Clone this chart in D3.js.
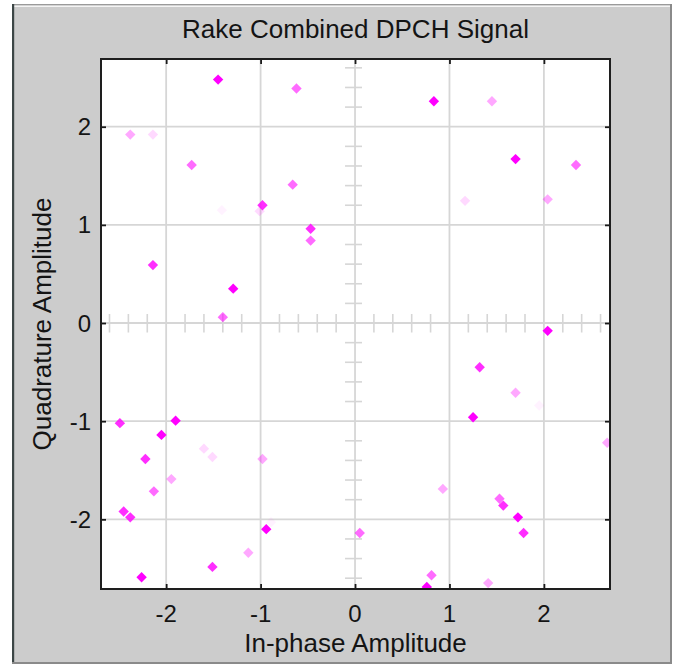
<!DOCTYPE html>
<html>
<head>
<meta charset="utf-8">
<script src="https://cdn.jsdelivr.net/npm/d3@7"></script>
<style>
  html, body { margin: 0; padding: 0; background: #ffffff; }
  svg { display: block; }
  text { font-family: "Liberation Sans", Arial, sans-serif; fill: #141414; }
</style>
</head>
<body>
<svg id="chart" width="676" height="666"></svg>
<script>
// ---- data ----
const title = "Rake Combined DPCH Signal";
const xLabel = "In-phase Amplitude";
const yLabel = "Quadrature Amplitude";
const xTicks = [-2, -1, 0, 1, 2];
const yTicks = [-2, -1, 0, 1, 2];
const minorStep = 0.2;
// in-phase values
const inPhase = [-1.45, -0.62, -2.38, -2.14, -1.73, -0.66, -1.41, -0.98, -1.01, -0.47,
  -0.47, -2.14, -1.29, -1.40, 0.835, 1.45, 1.70, 2.34, 1.165, 2.04,
  2.04, 1.32, 1.70, 1.95, 1.25, 2.67, 0.93, 1.53, 1.57, 1.725,
  1.785, 0.05, 0.81, 0.76, 1.41, -2.49, -1.90, -2.05, -1.60, -1.51,
  -2.22, -0.98, -1.945, -2.13, -2.45, -2.38, -0.89, -0.94, -1.13, -1.51, -2.26];
// quadrature values
const quadrature = [2.48, 2.39, 1.92, 1.92, 1.61, 1.41, 1.15, 1.20, 1.14, 0.96,
  0.84, 0.59, 0.35, 0.06, 2.26, 2.26, 1.67, 1.61, 1.245, 1.26,
  -0.08, -0.45, -0.71, -0.84, -0.96, -1.22, -1.69, -1.79, -1.86, -1.98,
  -2.14, -2.14, -2.57, -2.69, -2.65, -1.02, -0.995, -1.14, -1.28, -1.365,
  -1.385, -1.385, -1.59, -1.715, -1.92, -1.98, -2.03, -2.10, -2.34, -2.485, -2.59];
// persistence age of each symbol (0 = newest)
const age = [0, 2, 3, 4, 2, 2, 5, 1, 4, 1,
  2, 1, 0, 2, 0, 3, 0, 2, 4, 3,
  0, 1, 3, 5, 0, 3, 3, 2, 1, 0,
  1, 2, 2, 0, 3, 1, 0, 0, 4, 4,
  1, 3, 3, 2, 1, 1, 5, 0, 3, 1, 0];

const points = inPhase.map((v, i) => ({ x: v, y: quadrature[i], age: age[i] }));

// ---- layout ----
const svg = d3.select("#chart");
const plot = { left: 101, top: 59, right: 610, bottom: 589 };

const x = d3.scaleLinear().domain([-2.69, 2.70]).range([plot.left, plot.right]);
const y = d3.scaleLinear().domain([-2.71, 2.69]).range([plot.bottom, plot.top]);
const opacity = d3.scaleLinear().domain([0, 1, 2, 3, 4, 5]).range([1, 0.82, 0.58, 0.34, 0.15, 0.05]);

// figure panel
svg.append("rect").attr("x", 12).attr("y", 4).attr("width", 660).attr("height", 660).attr("fill", "#cccccc");
svg.append("rect").attr("x", 12).attr("y", 4).attr("width", 660).attr("height", 1.5).attr("fill", "#9a9a9a");
svg.append("rect").attr("x", 14).attr("y", 5.5).attr("width", 656).attr("height", 1.5).attr("fill", "#f4f4f4");
svg.append("rect").attr("x", 12).attr("y", 4).attr("width", 2.2).attr("height", 660).attr("fill", "#3c4646");
svg.append("rect").attr("x", 670).attr("y", 4).attr("width", 2).attr("height", 660).attr("fill", "#8a8a8a");
svg.append("rect").attr("x", 12).attr("y", 662).attr("width", 660).attr("height", 2).attr("fill", "#8a8a8a");

// axes background
svg.append("rect")
  .attr("x", plot.left).attr("y", plot.top)
  .attr("width", plot.right - plot.left).attr("height", plot.bottom - plot.top)
  .attr("fill", "#ffffff");

svg.append("defs").append("clipPath").attr("id", "clip")
  .append("rect")
  .attr("x", plot.left).attr("y", plot.top)
  .attr("width", plot.right - plot.left).attr("height", plot.bottom - plot.top);

const grid = svg.append("g").attr("clip-path", "url(#clip)");
const gridColor = "#d6d6d6";

// grid lines
grid.selectAll("line.gx").data(xTicks).join("line")
  .attr("x1", d => x(d)).attr("x2", d => x(d))
  .attr("y1", plot.top).attr("y2", plot.bottom)
  .attr("stroke", gridColor).attr("stroke-width", 1.8);
grid.selectAll("line.gy").data(yTicks).join("line")
  .attr("y1", d => y(d)).attr("y2", d => y(d))
  .attr("x1", plot.left).attr("x2", plot.right)
  .attr("stroke", gridColor).attr("stroke-width", 1.8);

// minor ticks on the zero axes
const xMinor = d3.range(-13, 14).map(k => k * minorStep).filter(v => Math.abs(v - Math.round(v)) > 1e-6);
const yMinor = d3.range(-13, 14).map(k => k * minorStep).filter(v => Math.abs(v - Math.round(v)) > 1e-6);
grid.selectAll("line.mx").data(xMinor).join("line")
  .attr("x1", d => x(d)).attr("x2", d => x(d))
  .attr("y1", y(0) - 9).attr("y2", y(0) + 9.5)
  .attr("stroke", gridColor).attr("stroke-width", 1.6);
grid.selectAll("line.my").data(yMinor).join("line")
  .attr("y1", d => y(d)).attr("y2", d => y(d))
  .attr("x1", x(0) - 10).attr("x2", x(0) + 7)
  .attr("stroke", gridColor).attr("stroke-width", 1.6);

// points (oldest drawn first)
const diamond = d3.symbol().type(d3.symbolSquare).size(54);
grid.selectAll("path.pt")
  .data(points.slice().sort((a, b) => b.age - a.age))
  .join("path")
  .attr("d", diamond)
  .attr("transform", d => `translate(${x(d.x)},${y(d.y)}) rotate(45)`)
  .attr("fill", "#ff00ff")
  .attr("fill-opacity", d => opacity(d.age));

// frame ticks (inward) via d3 axes
const tickLen = 5;
const axB = svg.append("g").attr("transform", `translate(0,${plot.bottom})`)
  .call(d3.axisBottom(x).tickValues(xTicks).tickSize(-tickLen).tickFormat(""));
const axT = svg.append("g").attr("transform", `translate(0,${plot.top})`)
  .call(d3.axisTop(x).tickValues(xTicks).tickSize(-tickLen).tickFormat(""));
const axL = svg.append("g").attr("transform", `translate(${plot.left},0)`)
  .call(d3.axisLeft(y).tickValues(yTicks).tickSize(-tickLen).tickFormat(""));
const axR = svg.append("g").attr("transform", `translate(${plot.right},0)`)
  .call(d3.axisRight(y).tickValues(yTicks).tickSize(-tickLen).tickFormat(""));
[axB, axT, axL, axR].forEach(g => {
  g.select(".domain").remove();
  g.selectAll(".tick line").attr("stroke", "#1a1a1a").attr("stroke-width", 1.8);
});

// frame
svg.append("rect")
  .attr("x", plot.left).attr("y", plot.top)
  .attr("width", plot.right - plot.left).attr("height", plot.bottom - plot.top)
  .attr("fill", "none").attr("stroke", "#1e1e1e").attr("stroke-width", 2);

// tick labels
svg.selectAll("text.xt").data(xTicks).join("text")
  .attr("x", d => x(d)).attr("y", 622)
  .attr("text-anchor", "middle").attr("font-size", 24)
  .text(d => d);
svg.selectAll("text.yt").data(yTicks).join("text")
  .attr("x", 91).attr("y", d => y(d) + 8.5)
  .attr("text-anchor", "end").attr("font-size", 24)
  .text(d => d);

// title and labels
svg.append("text").attr("x", (plot.left + plot.right) / 2).attr("y", 37.5)
  .attr("text-anchor", "middle").attr("font-size", 26).text(title);
svg.append("text").attr("x", (plot.left + plot.right) / 2).attr("y", 652)
  .attr("text-anchor", "middle").attr("font-size", 26).text(xLabel);
svg.append("text")
  .attr("transform", `translate(51,${(plot.top + plot.bottom) / 2}) rotate(-90)`)
  .attr("text-anchor", "middle").attr("font-size", 26).text(yLabel);
</script>
</body>
</html>
